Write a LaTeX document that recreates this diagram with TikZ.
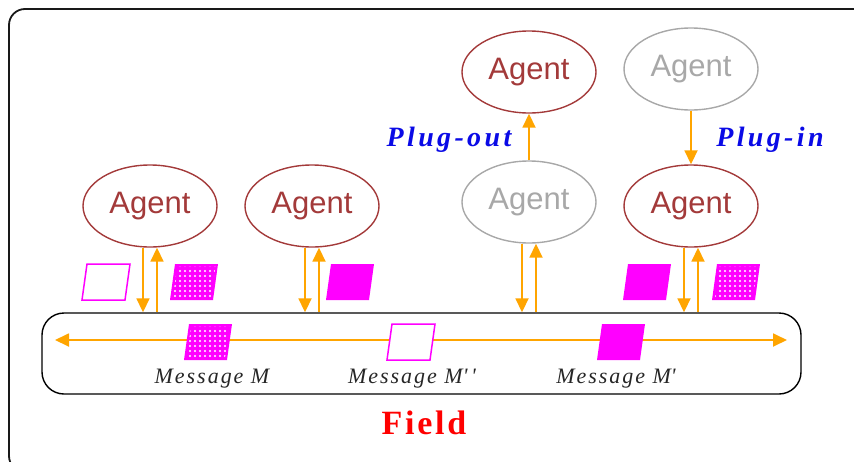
\documentclass[tikz,border=0pt]{standalone}
\usepackage{fontspec}
\setmainfont{Liberation Serif}
\newfontfamily\agentfont{Liberation Sans}
\newfontfamily\msgfont[LetterSpace=9]{Liberation Serif}
\newfontfamily\plugfont[LetterSpace=12]{Liberation Serif}
\newfontfamily\fieldfont[LetterSpace=8]{Liberation Serif}
\usetikzlibrary{shapes.geometric,arrows.meta,patterns.meta}
\definecolor{agred}{HTML}{A33A3A}
\definecolor{aggrey}{HTML}{A8A8A8}
\definecolor{arrorange}{HTML}{FFA500}
\definecolor{msgmag}{HTML}{FF00FF}
\definecolor{plugblue}{HTML}{0A0AE6}
\definecolor{fieldred}{HTML}{FF0000}
\tikzset{
  agent/.style={ellipse,draw=agred,text=agred,line width=1.4pt,minimum width=134pt,minimum height=82pt,inner sep=0pt,font=\agentfont\fontsize{31}{31}\selectfont},
  ghost/.style={agent,draw=aggrey,text=aggrey},
  arr/.style={draw=arrorange,line width=1.8pt,-{Triangle[width=13pt,length=14pt]}},
  arrboth/.style={draw=arrorange,line width=1.8pt,{Triangle[width=13pt,length=14pt]}-{Triangle[width=13pt,length=14pt]}},
  msglabel/.style={inner sep=0pt,font=\msgfont\itshape\fontsize{22}{22}\selectfont,text=black!85},
  pluglabel/.style={inner sep=0pt,font=\plugfont\bfseries\itshape\fontsize{28}{28}\selectfont,text=plugblue},
  msgfull/.pic={\fill[msgmag] (-24,18) -- (19,18) -- (24,-18) -- (-19,-18) -- cycle;},
  msgdots/.pic={\fill[msgmag] (-24,18) -- (19,18) -- (24,-18) -- (-19,-18) -- cycle;
    \fill[pattern={Dots[distance=5pt,radius=1.1pt]},pattern color=white] (-21,15.5) -- (17,15.5) -- (21.5,-15.5) -- (-17,-15.5) -- cycle;},
  msgopen/.pic={\fill[white] (-24,18) -- (19,18) -- (24,-18) -- (-19,-18) -- cycle;
    \draw[msgmag,line width=1.5pt] (-24,18) -- (19,18) -- (24,-18) -- (-19,-18) -- cycle;},
}
\begin{document}
\begin{tikzpicture}[x=1pt,y=-1pt]
\useasboundingbox (0,0) rectangle (854,461);
\begin{scope}
  \clip (0,0) rectangle (854,461);
  \draw[line width=1.8pt,black!90,rounded corners=16pt] (9,9) rectangle (880,472);
\end{scope}

% field
\node[draw,line width=1.4pt,rounded corners=22pt,minimum width=759pt,minimum height=81pt,inner sep=0pt] (field) at (421.5,353.5) {};
\coordinate (fl) at (55,340);
\coordinate (fr) at (787,340);
\draw[arrboth] (fl) -- (fr);

% agents
\node[agent] (A1) at (150,206) {Agent};
\node[agent] (A2) at (312,206) {Agent};
\node[ghost] (A3) at (529,202) {Agent};
\node[agent] (A4) at (691,206) {Agent};
\node[agent] (A5) at (529,72) {Agent};
\node[ghost] (A6) at (691,69) {Agent};

% plug in / out
\draw[arr] (A3.north) -- (A5.south);
\draw[arr] (A6.south) -- (A4.north);
\node[pluglabel] (plo) at (449,140) {Plug-out};
\node[pluglabel] (pli) at (770,140) {Plug-in};

% vertical connections
\foreach \a in {A1,A2,A3,A4}{
  \coordinate (\a d) at ([xshift=-7pt]\a.south);
  \coordinate (\a u) at ([xshift=7pt]\a.south);
  \draw[arr] (\a d) -- (\a d |- field.north);
  \draw[arr] (\a u |- field.north) -- (\a u);
}

% messages on field
\pic at (208,342) {msgdots};
\pic at (411,342) {msgopen};
\pic at (621,342) {msgfull};
% messages near agents
\pic at (106,282) {msgopen};
\pic at (194,282) {msgdots};
\pic at (350,282) {msgfull};
\pic at (647,282) {msgfull};
\pic at (736,282) {msgdots};

% labels
\node[msglabel] (lm) at (212,379) {Message M};
\node[msglabel] (lmpp) at (412,379) {Message M\textquotesingle\,\textquotesingle};
\node[msglabel] (lmp) at (616,379) {Message M\textquotesingle};
\node[inner sep=0pt,text=fieldred,font=\fieldfont\bfseries\fontsize{34}{34}\selectfont] (fld) at (424,423) {Field};
\end{tikzpicture}
\end{document}
